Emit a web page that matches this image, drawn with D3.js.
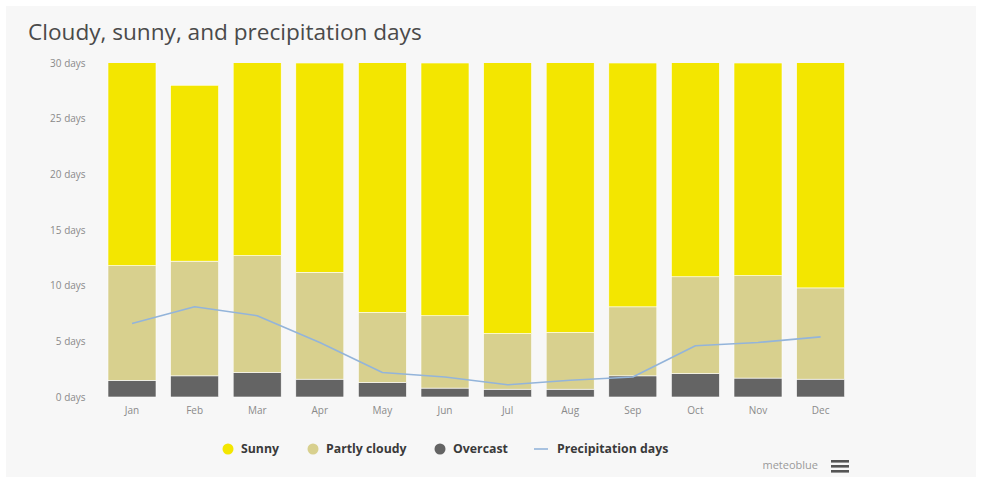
<!DOCTYPE html>
<html>
<head>
<meta charset="utf-8">
<script src="https://cdn.jsdelivr.net/npm/d3@7"></script>
<style>
  html, body { margin: 0; padding: 0; background: #ffffff; }
  svg { display: block; }
</style>
</head>
<body>
<svg id="chart" width="982" height="483"></svg>
<script>
// Monthly climate summary: sunny / partly cloudy / overcast days and precipitation days
const months = ["Jan", "Feb", "Mar", "Apr", "May", "Jun", "Jul", "Aug", "Sep", "Oct", "Nov", "Dec"];
const overcast = [1.5, 1.9, 2.2, 1.6, 1.3, 0.8, 0.7, 0.7, 1.9, 2.1, 1.7, 1.6];
const partlyCloudy = [10.3, 10.3, 10.5, 9.6, 6.3, 6.5, 5.0, 5.1, 6.2, 8.7, 9.2, 8.2];
const sunny = [19.2, 15.8, 18.3, 18.8, 23.4, 22.7, 25.3, 25.2, 21.9, 20.2, 19.1, 21.2];
const precipitation = [6.6, 8.1, 7.3, 4.9, 2.2, 1.8, 1.1, 1.5, 1.8, 4.6, 4.9, 5.4];
const yTicks = [0, 5, 10, 15, 20, 25, 30];

const seriesNames = ["Overcast", "Partly cloudy", "Sunny"];
const seriesColors = { "Sunny": "#f3e600", "Partly cloudy": "#d8d08e", "Overcast": "#646464" };
const lineColor = "#93b4da";
const font = "'Open Sans', 'Noto Sans', sans-serif";

const svg = d3.select("#chart");
const W = 982, H = 483;
const margin = { left: 98.6, right: 128, top: 63, bottom: 86 };

// panel
svg.append("rect").attr("x", 6).attr("y", 6).attr("width", W - 12).attr("height", H - 12)
  .attr("fill", "#f7f7f7");

svg.append("text")
  .attr("x", 28).attr("y", 40)
  .attr("font-family", font)
  .attr("font-size", 22.6)
  .attr("fill", "#4a4a4a")
  .text("Cloudy, sunny, and precipitation days");

const x = d3.scaleBand().domain(months)
  .range([margin.left, W - margin.right]).paddingInner(0.233).paddingOuter(0.15);
const y = d3.scaleLinear().domain([0, 30]).range([H - margin.bottom, margin.top]);

const rows = months.map((m, i) => ({
  month: m, "Overcast": overcast[i], "Partly cloudy": partlyCloudy[i], "Sunny": sunny[i]
}));
const stacked = d3.stack().keys(seriesNames)(rows);

// clip at the axis maximum
svg.append("clipPath").attr("id", "plotClip").append("rect")
  .attr("x", margin.left - 10).attr("y", margin.top)
  .attr("width", W - margin.left - margin.right + 20).attr("height", y(0) - margin.top + 1);

const plot = svg.append("g").attr("clip-path", "url(#plotClip)");

plot.selectAll("g.series").data(stacked).join("g")
  .attr("class", "series")
  .attr("fill", d => seriesColors[d.key])
  .selectAll("rect").data(d => d).join("rect")
  .attr("x", d => x(d.data.month))
  .attr("width", x.bandwidth())
  .attr("y", d => y(d[1]))
  .attr("height", d => y(d[0]) - y(d[1]))
  .attr("stroke", "#ffffff").attr("stroke-width", 0.6);

const line = d3.line()
  .x((d, i) => x(months[i]) + x.bandwidth() / 2)
  .y(d => y(d));

plot.append("path").datum(precipitation)
  .attr("d", line)
  .attr("fill", "none")
  .attr("stroke", lineColor)
  .attr("stroke-width", 1.6)
  .attr("stroke-linejoin", "round");

// y axis
const yAxis = d3.axisLeft(y).tickValues(yTicks).tickFormat(d => d + " days").tickSize(0).tickPadding(13);
const gy = svg.append("g").attr("transform", `translate(${margin.left},0)`).call(yAxis);
gy.select(".domain").remove();
gy.selectAll("text")
  .attr("font-family", font)
  .attr("font-size", 10).attr("fill", "#8a8a8a");

// x axis
const xAxis = d3.axisBottom(x).tickSize(0).tickPadding(10);
const gx = svg.append("g").attr("transform", `translate(0,${y(0)})`).call(xAxis);
gx.select(".domain").remove();
gx.selectAll("text")
  .attr("font-family", font)
  .attr("font-size", 10).attr("fill", "#8a8a8a");

// legend
const legendItems = [
  { name: "Sunny", type: "dot", color: seriesColors["Sunny"], x: 228 },
  { name: "Partly cloudy", type: "dot", color: seriesColors["Partly cloudy"], x: 313 },
  { name: "Overcast", type: "dot", color: seriesColors["Overcast"], x: 440 },
  { name: "Precipitation days", type: "line", color: lineColor, x: 541 }
];
const legend = svg.append("g").attr("font-family", font);
const ly = 449;
legendItems.forEach(it => {
  const g = legend.append("g");
  if (it.type === "dot") {
    g.append("circle").attr("cx", it.x).attr("cy", ly).attr("r", 5.5).attr("fill", it.color);
  } else {
    g.append("line").attr("x1", it.x - 7).attr("x2", it.x + 7)
      .attr("y1", ly).attr("y2", ly).attr("stroke", it.color).attr("stroke-width", 1.6);
  }
  g.append("text").attr("x", it.x + (it.type === "dot" ? 13 : 16)).attr("y", ly + 4)
    .attr("font-size", 12.3).attr("font-weight", "bold").attr("fill", "#3a3a3a")
    .text(it.name);
});

// credit + menu
svg.append("text").attr("x", 818).attr("y", 469).attr("text-anchor", "end")
  .attr("font-family", font)
  .attr("font-size", 11).attr("fill", "#9a9a9a").text("meteoblue");
[0, 5, 10].forEach(dy => {
  svg.append("rect").attr("x", 831).attr("y", 460 + dy).attr("width", 18).attr("height", 2.6)
    .attr("fill", "#555555");
});
</script>
</body>
</html>
